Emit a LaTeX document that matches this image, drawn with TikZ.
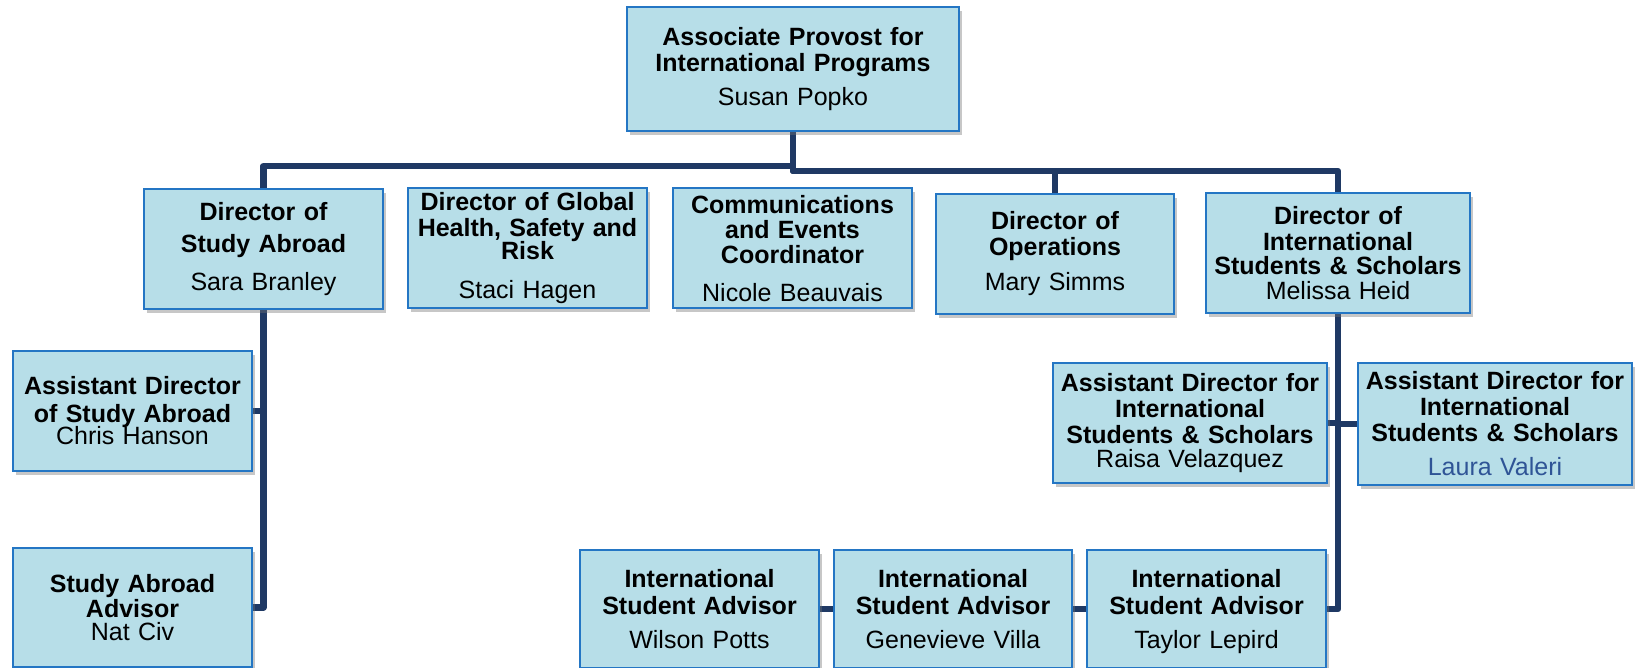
\documentclass[tikz,border=0pt]{standalone}
\usepackage{fontspec}
\setmainfont{Liberation Sans}
\usetikzlibrary{shadows,backgrounds}

\definecolor{boxfill}{RGB}{183,222,232}
\definecolor{boxline}{RGB}{36,118,196}
\definecolor{linkblue}{RGB}{31,57,100}
\definecolor{nameblue}{RGB}{47,84,150}

\tikzset{
    post node/.style={rectangle,draw=boxline,fill=boxfill,line width=2pt,
        inner sep=0pt,text width=239pt,minimum height=120pt,align=center,
        font=\fontsize{25}{26}\selectfont,
        drop shadow={shadow xshift=3pt,shadow yshift=-4pt,opacity=0.4,fill=black!55}},
    link/.style={line width=6.5pt,draw=linkblue,line join=round}
    }

\begin{document}
\begin{tikzpicture}[x=1pt,y=-1pt]
                \useasboundingbox (0,0) rectangle (1639,668);
                % top
                \node(prov)[post node,text width=332pt,minimum height=124pt] at (793,69)
                    {{\bfseries Associate Provost for\\International Programs}\\[8pt]Susan Popko};
                % directors
                \node(sa)[post node] at (263.5,249)
                    {{\bfseries Director of\\[6pt]Study Abroad}\\[12pt]Sara Branley};
                \node(ghs)[post node] at (527.5,248.5)
                    {{\bfseries Director of Global\\Health, Safety and\\[-3pt]Risk}\\[13pt]Staci Hagen};
                \node(comm)[post node] at (792.5,248.5)
                    {{\bfseries Communications\\[-1pt]and Events\\[-1pt]Coordinator}\\[12pt]Nicole Beauvais};
                \node(ops)[post node,text width=238pt] at (1055,254)
                    {{\bfseries Director of\\Operations}\\[9pt]Mary Simms};
                \node(iss)[post node,text width=264pt] at (1338,253.5)
                    {{\bfseries Director of\\International\\[-2pt]Students \& Scholars}\\[-1pt]Melissa Heid};
                % study abroad
                \node(asa)[post node] at (132.5,411)
                    {{\bfseries Assistant Director\\[2pt]of Study Abroad}\\[-4pt]Chris Hanson};
                \node(adv)[post node,minimum height=119pt] at (132.5,607.5)
                    {{\bfseries Study Abroad\\[-1pt]Advisor}\\[-3pt]Nat Civ};
                % international students
                \node(rai)[post node,text width=274pt] at (1190,423)
                    {{\bfseries Assistant Director for\\International\\Students \& Scholars}\\[-2pt]Raisa Velazquez};
                \node(lau)[post node,text width=274pt,minimum height=122pt] at (1495,424)
                    {{\bfseries Assistant Director for\\International\\Students \& Scholars}\\[8pt]\textcolor{nameblue}{Laura Valeri}};
                \node(wil)[post node,minimum height=118pt] at (699.5,609)
                    {{\bfseries International\\[1pt]Student Advisor}\\[8pt]Wilson Potts};
                \node(gen)[post node,text width=238pt,minimum height=118pt] at (953,609)
                    {{\bfseries International\\[1pt]Student Advisor}\\[8pt]Genevieve Villa};
                \node(tay)[post node,minimum height=118pt] at (1206.5,609)
                    {{\bfseries International\\[1pt]Student Advisor}\\[8pt]\raisebox{0pt}[\height][0pt]{Taylor Lepird}};
                % connectors
                \begin{scope}[on background layer]
                    \draw[link] (prov.south) -- ++(0,34) -| (sa.north);
                    \draw[link] (prov.south) -- ++(0,39) -| (iss.north);
                    \draw[link] (prov.south) -- ++(0,39) -| (ops.north);
                    \draw[link] (sa.south) |- (adv.east);
                    \draw[link] (sa.south) |- (asa.east);
                    \draw[link] (iss.south) |- (tay.east);
                    \draw[link] (iss.south) |- (rai.east);
                    \draw[link] (iss.south) |- (lau.west);
                    \draw[link] (tay.west) -- (gen.east);
                    \draw[link] (gen.west) -- (wil.east);
                \end{scope}
            \end{tikzpicture}
\end{document}
